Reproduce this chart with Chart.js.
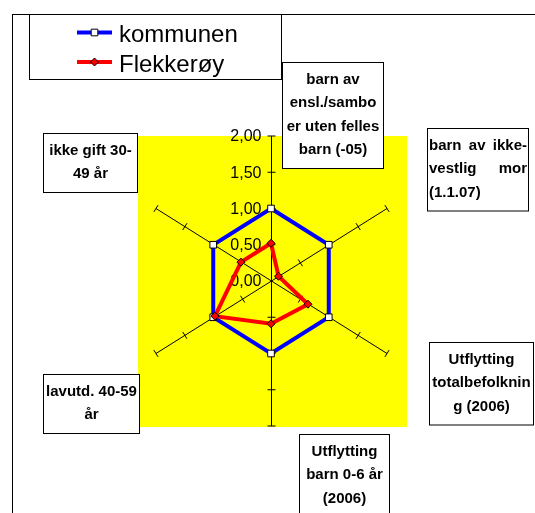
<!DOCTYPE html>
<html lang="no">
<head>
<meta charset="UTF-8">
<title>Radar - kommunen / Flekkerøy</title>
<script src="https://cdn.jsdelivr.net/npm/chart.js@4/dist/chart.umd.min.js"></script>
<style>
  html, body { margin: 0; padding: 0; background: #fff; }
  canvas { display: block; }
</style>
</head>
<body>
<canvas id="grafico" width="535" height="513"></canvas>
<script>
const categorias = [
  ["barn av", "ensl./sambo", "er uten felles", "barn (-05)"],
  ["barn av ikke-", "vestlig mor", "(1.1.07)"],
  ["Utflytting", "totalbefolknin", "g (2006)"],
  ["Utflytting", "barn 0-6 år", "(2006)"],
  ["lavutd. 40-59", "år"],
  ["ikke gift 30-", "49 år"],
];
const nomesSeries = ["kommunen", "Flekkerøy"];
const valoresKommunen = [1.0, 1.0, 1.0, 1.0, 1.0, 1.0];
const valoresFlekkeroy = [0.52, 0.13, 0.64, 0.59, 0.97, 0.52];
const valoresEixo = [0, 0.5, 1, 1.5, 2];
const rotulosEixo = ["0,00", "0,50", "1,00", "1,50", "2,00"];

// o radar do Excel é um pouco mais estreito que alto
const ESTICAR_X = 0.92;
const ALTURA_LINHA = 23.5;

// caixas dos rótulos das categorias (mesma ordem das categorias)
const caixas = [
  { x: 282, y: 62, w: 101, alinhar: "center" },
  { x: 427, y: 128, w: 101, alinhar: "justify" },
  { x: 429, y: 342, w: 104, alinhar: "center" },
  { x: 299, y: 434, w: 90, alinhar: "center" },
  { x: 43, y: 374, w: 96, alinhar: "center" },
  { x: 43, y: 133, w: 94, alinhar: "center" },
];
const caixaLegenda = { x: 29, y: 14, w: 252, h: 65 };

const BaseRadial = Chart.RadialLinearScale;

class RadialEsticado extends BaseRadial {
  getPointPosition(index, distance, additionalAngle) {
    const p = super.getPointPosition(index, distance, additionalAngle);
    return { x: this.xCenter + (p.x - this.xCenter) * ESTICAR_X, y: p.y, angle: p.angle };
  }
  drawGrid() {
    this.ctx.save();
    this.ctx.translate(0.5, 0);
    super.drawGrid();
    this.ctx.restore();
  }
}
RadialEsticado.id = "radialEsticado";
RadialEsticado.defaults = BaseRadial.defaults;
Chart.register(RadialEsticado);

function escreverJustificado(ctx, linha, x0, x1, y, ultima) {
  ctx.textAlign = "left";
  const palavras = linha.split(" ");
  if (ultima || palavras.length < 2) {
    ctx.fillText(linha, x0, y);
    return;
  }
  const larguras = palavras.map(p => ctx.measureText(p).width);
  const total = larguras.reduce((a, b) => a + b, 0);
  const espaco = (x1 - x0 - total) / (palavras.length - 1);
  let x = x0;
  palavras.forEach((p, k) => {
    ctx.fillText(p, x, y);
    x += larguras[k] + espaco;
  });
}

const desenhoPlugin = {
  id: "desenho",
  beforeDraw(chart) {
    const { ctx } = chart;
    const r = chart.scales.r;
    ctx.save();
    ctx.fillStyle = "#fff";
    ctx.fillRect(0, 0, chart.width, chart.height);

    // área amarela do gráfico
    const rx = r.drawingArea * ESTICAR_X;
    ctx.fillStyle = "#ffff00";
    ctx.fillRect(Math.round(r.xCenter - rx), r.yCenter - r.drawingArea, Math.round(rx * 2) + 2, r.drawingArea * 2 + 1);

    // moldura externa
    ctx.strokeStyle = "#000";
    ctx.lineWidth = 1;
    ctx.strokeRect(12.5, 14.5, 700, 700);
    ctx.restore();
  },
  beforeDatasetsDraw(chart) {
    const { ctx } = chart;
    const r = chart.scales.r;
    ctx.save();
    ctx.translate(0.5, 0);
    ctx.strokeStyle = "#000";
    ctx.lineWidth = 1;
    categorias.forEach((_, i) => {
      valoresEixo.forEach(v => {
        if (v === 0) return;
        const p = r.getPointPositionForValue(i, v);
        const dx = p.x - r.xCenter;
        const dy = p.y - r.yCenter;
        const len = Math.hypot(dx, dy);
        const px = -dy / len * 4;
        const py = dx / len * 4;
        ctx.beginPath();
        ctx.moveTo(p.x - px, p.y - py);
        ctx.lineTo(p.x + px, p.y + py);
        ctx.stroke();
      });
    });

    ctx.font = "16px 'Liberation Sans', Arial, sans-serif";
    ctx.fillStyle = "#000";
    ctx.textAlign = "right";
    ctx.textBaseline = "middle";
    valoresEixo.forEach((v, k) => {
      const p = r.getPointPositionForValue(0, v);
      ctx.fillText(rotulosEixo[k], p.x - 10, p.y + 1);
    });
    ctx.restore();
  },
  afterDraw(chart) {
    const { ctx } = chart;
    ctx.save();
    ctx.lineWidth = 1;

    // rótulos das categorias
    ctx.font = "bold 15px 'Liberation Sans', Arial, sans-serif";
    ctx.textBaseline = "middle";
    caixas.forEach((c, i) => {
      const linhas = categorias[i];
      const h = 12 + linhas.length * ALTURA_LINHA;
      ctx.fillStyle = "#fff";
      ctx.fillRect(c.x, c.y, c.w, h);
      ctx.strokeStyle = "#000";
      ctx.strokeRect(c.x + 0.5, c.y + 0.5, c.w, h);
      ctx.fillStyle = "#000";
      linhas.forEach((linha, j) => {
        const y = c.y + 6 + ALTURA_LINHA * (j + 0.5);
        if (c.alinhar === "justify") {
          escreverJustificado(ctx, linha, c.x + 2, c.x + c.w - 1, y, j === linhas.length - 1);
        } else {
          ctx.textAlign = "center";
          ctx.fillText(linha, c.x + c.w / 2 + 0.5, y);
        }
      });
    });

    // legenda
    const L = caixaLegenda;
    ctx.fillStyle = "#fff";
    ctx.fillRect(L.x, L.y, L.w, L.h);
    ctx.strokeStyle = "#000";
    ctx.strokeRect(L.x + 0.5, L.y + 0.5, L.w, L.h);
    chart.data.datasets.forEach((ds, k) => {
      const y = 32.5 + k * 29.5;
      ctx.strokeStyle = ds.borderColor;
      ctx.lineWidth = 4;
      ctx.beginPath();
      ctx.moveTo(77, y);
      ctx.lineTo(112, y);
      ctx.stroke();

      ctx.fillStyle = ds.pointBackgroundColor;
      ctx.strokeStyle = ds.pointBorderColor;
      ctx.lineWidth = 1;
      Chart.helpers.drawPoint(ctx, {
        pointStyle: ds.pointStyle,
        radius: ds.pointRadius,
        rotation: 0,
        borderWidth: 1
      }, 94.5, y);

      ctx.fillStyle = "#000";
      ctx.font = "24px 'Liberation Sans', Arial, sans-serif";
      ctx.textAlign = "left";
      ctx.textBaseline = "alphabetic";
      ctx.fillText(ds.label, 119, 42 + k * 29.5);
    });
    ctx.restore();
  }
};

const grafico = new Chart(document.getElementById("grafico").getContext("2d"), {
  type: "radar",
  data: {
    labels: categorias,
    datasets: [
      {
        label: nomesSeries[0],
        data: valoresKommunen,
        borderColor: "#0000ff",
        borderWidth: 4,
        fill: false,
        pointStyle: "rect",
        pointRadius: 4.7,
        pointBackgroundColor: "#ffffff",
        pointBorderColor: "#000000",
        pointBorderWidth: 1,
        order: 1
      },
      {
        label: nomesSeries[1],
        data: valoresFlekkeroy,
        borderColor: "#ff0000",
        borderWidth: 4,
        fill: false,
        pointStyle: "rectRot",
        pointRadius: 4,
        pointBackgroundColor: "#ff0000",
        pointBorderColor: "#000000",
        pointBorderWidth: 1,
        order: 0
      }
    ]
  },
  options: {
    responsive: false,
    animation: false,
    devicePixelRatio: 1,
    layout: { padding: { left: 126, right: 119, top: 136, bottom: 87 } },
    elements: { line: { tension: 0 } },
    plugins: {
      legend: { display: false },
      tooltip: { enabled: false }
    },
    scales: {
      r: {
        type: "radialEsticado",
        min: 0,
        max: 2,
        ticks: { display: false, stepSize: 0.5 },
        grid: { display: false },
        angleLines: { display: true, color: "#000", lineWidth: 1 },
        pointLabels: { display: false }
      }
    }
  },
  plugins: [desenhoPlugin]
});
</script>
</body>
</html>
